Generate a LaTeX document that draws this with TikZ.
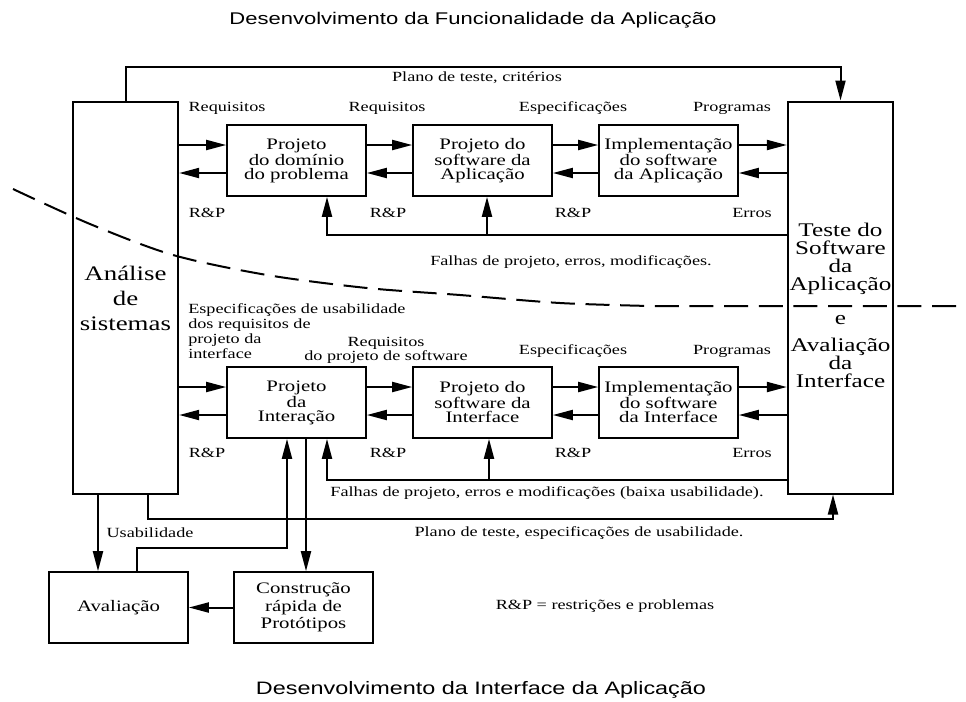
\documentclass[tikz,border=0pt]{standalone}
\usepackage{fontspec}
\setmainfont[FakeStretch=1.3]{Liberation Serif}
\setsansfont[FakeStretch=1.3]{Liberation Sans}
\usepackage{tikz}
\usetikzlibrary{arrows.meta}
\newcommand{\lblfont}{\fontsize{10.5pt}{11.25pt}\selectfont}

\begin{document}
\begin{tikzpicture}[x=0.75pt, y=-0.75pt,
  procbox/.style={draw, line width=1.5pt, minimum width=104pt, minimum height=53pt,
    align=center, inner sep=1pt, font=\fontsize{12pt}{10.5pt}\selectfont},
  tallbox/.style={draw, line width=1.5pt, minimum width=79pt, minimum height=294pt,
    align=center, inner sep=0pt},
  lbl/.style={inner sep=0pt, font=\lblfont},
  title/.style={inner sep=0pt, font=\sffamily\fontsize{12.7pt}{14pt}\selectfont},
  arr/.style={line width=1.5pt, -{Triangle[length=15pt,width=7.5pt]}}]
  \useasboundingbox (0,0) rectangle (966,701);

  % titles
  \node[title] (t1) at (473,20) {Desenvolvimento da Funcionalidade da Aplicação};
  \node[title, font=\sffamily\fontsize{13.5pt}{15pt}\selectfont] (t2) at (481,690)
    {Desenvolvimento da Interface da Aplicação};

  % big boxes
  \node[tallbox, font=\fontsize{15.5pt}{18.75pt}\selectfont] (ana) at (125.5,298)
    {Análise\\de\\sistemas};
  \node[tallbox] (tst) at (840.5,297.5) {};
  \node[inner sep=0pt, align=center, font=\fontsize{14.5pt}{13.5pt}\selectfont] (tsttxt)
    at (840.5,305) {Teste do\\Software\\da\\Aplicação\\[12pt]e\\[6.75pt]Avaliação\\da\\Interface};

  % functionality row
  \node[procbox] (dom) at (296.5,160.5) {Projeto\\do domínio\\do problema};
  \node[procbox] (sw)  at (482.5,160.5) {Projeto do\\software da\\Aplicação};
  \node[procbox] (imp) at (668.5,160.5) {Implementação\\do software\\da Aplicação};

  % interface row
  \node[procbox] (int)  at (296.5,402.5) {Projeto\\da\\Interação};
  \node[procbox] (swi)  at (482.5,402.5) {Projeto do\\software da\\Interface};
  \node[procbox] (impi) at (668.5,402.5) {Implementação\\do software\\da Interface};

  % prototyping
  \node[procbox] (aval) at (118.5,607.5) {Avaliação};
  \node[procbox, font=\fontsize{12pt}{13pt}\selectfont] (cons) at (303.5,607.5)
    {Construção\\rápida de\\Protótipos};

  % row levels and routing points
  \coordinate (r1f) at (0,145);
  \coordinate (r1b) at (0,173);
  \coordinate (r2f) at (0,387);
  \coordinate (r2b) at (0,415);
  \coordinate (toprow) at (0,67);
  \coordinate (fb1) at (327,235);
  \coordinate (fb1b) at (487,235);
  \coordinate (fb2) at (327,480);
  \coordinate (fb2b) at (489,480);
  \coordinate (pl2) at (148,519);
  \coordinate (pl2e) at (833,519);
  \coordinate (us) at (98,0);
  \coordinate (av1) at (137,548);
  \coordinate (av2) at (287,548);
  \coordinate (pc) at (306,0);

  % forward and backward arrows
  \foreach \a/\b in {ana/dom, dom/sw, sw/imp, imp/tst} {
    \draw[arr] (\a.east |- r1f) -- (\b.west |- r1f);
    \draw[arr] (\b.west |- r1b) -- (\a.east |- r1b);
  }
  \foreach \a/\b in {ana/int, int/swi, swi/impi, impi/tst} {
    \draw[arr] (\a.east |- r2f) -- (\b.west |- r2f);
    \draw[arr] (\b.west |- r2b) -- (\a.east |- r2b);
  }

  % test plan
  \draw[arr] (ana.north) -- (ana.north |- toprow) -| (tst.north);
  \draw[arr] (pl2 |- ana.south) -- (pl2) -- (pl2e) -- (pl2e |- tst.south);

  % feedback
  \draw[arr] (tst.west |- fb1) -| (dom.south -| fb1);
  \draw[arr] (fb1b) -- (fb1b |- sw.south);
  \draw[arr] (tst.west |- fb2) -| (int.south -| fb2);
  \draw[arr] (fb2b) -- (fb2b |- swi.south);

  % prototyping loop
  \draw[arr] (us |- ana.south) -- (us |- aval.north);
  \draw[arr] (av1 |- aval.north) -- (av1) -- (av2) -- (av2 |- int.south);
  \draw[arr] (pc |- int.south) -- (pc |- cons.north);
  \draw[arr] (cons.west) -- (aval.east);

  % dividing line
  \draw[line width=1.5pt, dash pattern=on 18pt off 8pt]
    plot[smooth] coordinates {(13,189) (90,224) (173,255) (267,275) (367,288) (460,295) (560,303) (650,306)}
    -- (966,306);

  % labels, functionality
  \node[lbl] (lpl1) at (477,78) {Plano de teste, critérios};
  \node[lbl] (lrq1) at (227,108) {Requisitos};
  \node[lbl] (lrq2) at (387,108) {Requisitos};
  \node[lbl] (les1) at (573,108) {Especificações};
  \node[lbl] (lpg1) at (732,108) {Programas};
  \node[lbl] (lrp1) at (207,213) {R\&P};
  \node[lbl] (lrp2) at (388,213) {R\&P};
  \node[lbl] (lrp3) at (573,213) {R\&P};
  \node[lbl] (ler1) at (752,213) {Erros};
  \node[lbl] (lfa1) at (571,262) {Falhas de projeto, erros, modificações.};

  % labels, interface
  \node[lbl, align=left, anchor=north west] (lus1) at (188,303)
    {Especificações de usabilidade\\dos requisitos de\\projeto da\\interface};
  \node[lbl, align=center, font=\fontsize{10.5pt}{8.5pt}\selectfont] (lrq3) at (386,350)
    {Requisitos\\do projeto de software};
  \node[lbl] (les2) at (573,351) {Especificações};
  \node[lbl] (lpg2) at (732,351) {Programas};
  \node[lbl] (lrp4) at (207,453) {R\&P};
  \node[lbl] (lrp5) at (388,453) {R\&P};
  \node[lbl] (lrp6) at (573,453) {R\&P};
  \node[lbl] (ler2) at (752,453) {Erros};
  \node[lbl] (lfa2) at (547,493) {Falhas de projeto, erros e modificações (baixa usabilidade).};
  \node[lbl] (lpl2) at (579,533) {Plano de teste, especificações de usabilidade.};
  \node[lbl] (lusb) at (150,533) {Usabilidade};
  \node[lbl] (lrpk) at (605,606) {R\&P = restrições e problemas};
\end{tikzpicture}
\end{document}
